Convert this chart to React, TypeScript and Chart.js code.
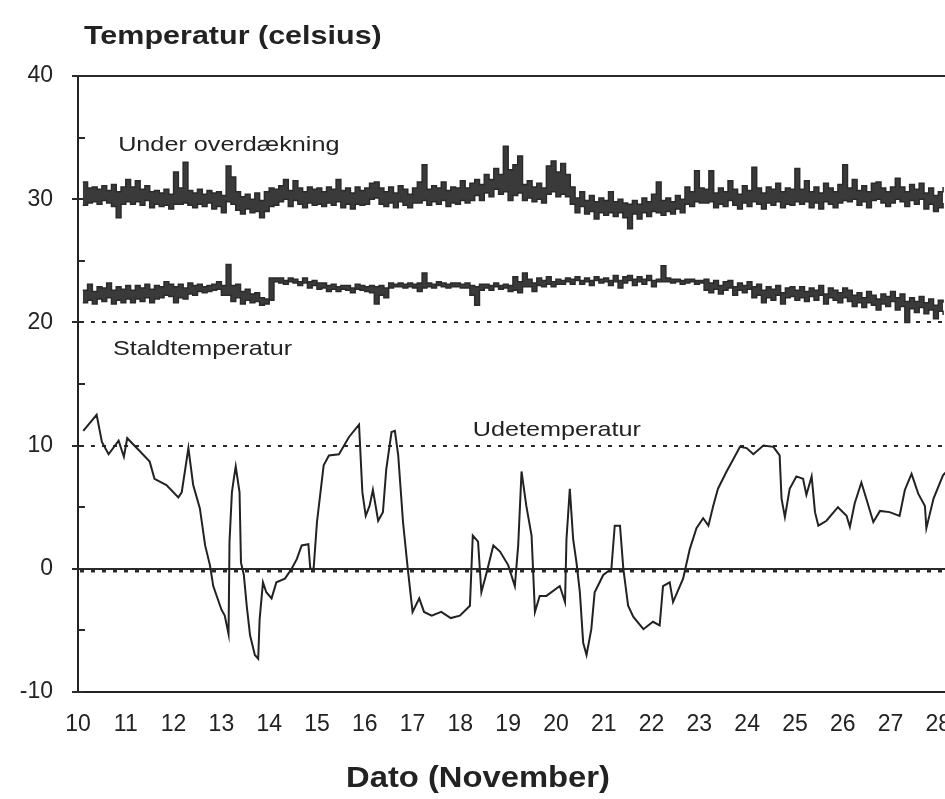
import React, { useEffect, useRef } from "react";
import { Chart, registerables } from "chart.js";

Chart.register(...registerables);

// ---------- data ----------
const xTickDays = [10, 11, 12, 13, 14, 15, 16, 17, 18, 19, 20, 21, 22, 23, 24, 25, 26, 27, 28];
const yTickValues = [-10, 0, 10, 20, 30, 40];
const yMinorValues = [-5, 5, 15, 25, 35];
const dottedLevels = [20, 10, 0];

const seriesNames = ["Under overdækning", "Staldtemperatur", "Udetemperatur"];
const labelDays = [10.84, 10.73, 18.26];
const labelValues = [33.9, 17.35, 10.78];

// noisy series: high / low envelope every 0.1 day from 10.1
const sampleStart = 10.1;
const sampleStep = 0.1;

const coverHigh = [
  31.4, 30.9, 31.0, 30.8, 31.1, 30.7, 31.2, 30.6, 31.0, 31.6,
  31.0, 31.5, 30.8, 31.1, 30.6, 30.7, 30.5, 30.8, 30.4, 32.2,
  30.9, 33.0, 30.7, 30.5, 30.8, 30.4, 30.7, 30.5, 30.6, 30.3,
  32.7, 31.8, 30.6, 30.2, 30.4, 30.0, 30.5, 29.9, 30.6, 30.9,
  30.8, 31.1, 31.6, 30.7, 31.5, 30.9, 30.6, 31.0, 30.8, 30.9,
  30.6, 31.0, 30.8, 31.6, 30.7, 30.9, 30.5, 31.0, 30.7, 30.9,
  31.3, 31.4, 30.9, 30.6, 31.0, 30.5, 31.1, 30.8, 30.4, 30.9,
  31.4, 32.8, 30.8, 31.1, 30.9, 31.4, 30.7, 31.0, 30.9, 31.5,
  30.9, 31.3, 31.6, 31.2, 32.0, 31.6, 32.5, 32.0, 34.3, 32.4,
  32.8, 33.5, 31.2, 31.5, 31.0, 31.3, 30.9, 32.7, 33.1, 32.2,
  32.9, 32.0, 31.0, 30.1, 30.6, 29.9, 30.3, 29.8, 30.1, 29.9,
  30.6, 29.8, 30.0, 29.7, 29.6, 29.9, 29.6, 30.1, 29.8, 30.4,
  31.4, 29.9, 30.1, 29.8, 30.3, 30.0, 31.0, 30.6, 32.3, 30.9,
  30.8, 32.3, 30.5, 30.9, 30.6, 31.5, 30.8, 30.4, 31.1, 30.7,
  32.6, 30.9, 30.5, 31.0, 30.8, 31.3, 30.6, 30.9, 30.8, 32.5,
  30.8, 31.5, 30.6, 31.0, 30.5, 31.3, 30.9, 30.6, 31.2, 32.8,
  30.9, 31.6, 30.7, 31.1, 30.6, 31.3, 31.4, 30.9, 30.6, 31.0,
  31.7, 31.0, 30.6, 31.2, 30.8, 31.3, 30.5, 30.9, 30.3, 30.6,
  31.0,
];

const coverLow = [
  29.5, 29.7, 29.8, 29.6, 29.9, 29.7, 29.4, 28.5, 29.6, 29.8,
  29.6, 29.8, 29.5, 29.9, 29.3, 29.6, 29.4, 29.5, 29.2, 29.6,
  29.6, 29.7, 29.5, 29.3, 29.6, 29.4, 29.7, 29.2, 29.4, 28.9,
  29.8, 29.6, 29.1, 28.8, 29.2, 28.9, 29.0, 28.5, 29.0, 29.4,
  29.5, 29.8, 30.0, 29.4, 29.9, 29.6, 29.3, 29.7, 29.5, 29.6,
  29.4, 29.7, 29.5, 29.8, 29.3, 29.6, 29.2, 29.6, 29.5, 29.6,
  30.0, 30.1, 29.6, 29.4, 29.7, 29.3, 29.8, 29.5, 29.3, 29.7,
  29.7, 29.9, 29.5, 29.8, 29.6, 29.9, 29.4, 29.7, 29.6, 29.9,
  29.7, 29.9, 30.3, 29.9, 30.5, 30.2, 30.8, 30.4, 30.6, 29.9,
  30.3, 30.5, 29.9, 30.1, 29.8, 30.0, 29.7, 30.4, 30.6, 30.2,
  30.4, 30.2, 29.6, 28.9, 29.4, 28.8, 29.0, 28.4, 28.9, 28.7,
  28.9, 28.6, 28.9, 28.5, 27.6, 28.8, 28.4, 28.9, 28.6, 29.0,
  28.9, 28.7, 29.0, 28.8, 29.2, 28.9, 29.6, 29.4, 29.8, 29.7,
  29.7, 29.8, 29.3, 29.6, 29.4, 29.9, 29.5, 29.2, 29.7, 29.4,
  29.8, 29.6, 29.2, 29.7, 29.5, 29.8, 29.3, 29.6, 29.5, 29.8,
  29.6, 29.8, 29.3, 29.7, 29.2, 29.8, 29.6, 29.3, 29.7, 29.9,
  29.8, 30.0, 29.5, 29.8, 29.3, 29.9, 30.0, 29.7, 29.4, 29.7,
  30.0, 29.8, 29.4, 29.9, 29.6, 30.0, 29.2, 29.6, 29.0, 29.3,
  29.7,
];

const stableHigh = [
  22.6, 23.1, 22.5, 22.9, 22.8, 23.2, 22.6, 22.9, 22.7, 23.0,
  22.6, 23.0, 22.8, 23.1, 22.7, 23.0, 22.9, 23.3, 23.1, 22.9,
  23.1, 22.8, 23.2, 23.0, 23.1, 22.9, 23.0, 23.1, 23.3, 23.0,
  24.7, 23.0, 23.1, 22.5, 22.7, 22.3, 22.4, 22.0, 21.9, 23.6,
  23.6, 23.6, 23.4, 23.6, 23.5, 23.3, 23.6, 23.3, 23.4, 23.2,
  23.2, 23.0, 23.1, 22.9, 23.0, 23.0, 22.8, 23.1, 23.0, 22.9,
  23.0, 22.9, 23.0, 22.8, 23.2, 23.1, 23.2, 23.1, 23.2, 23.1,
  23.2, 24.0, 23.2, 23.1, 23.3, 23.2, 23.1, 23.2, 23.2, 23.1,
  23.2, 23.0, 22.9, 23.1, 23.1, 23.0, 23.2, 23.0, 23.1, 23.0,
  23.7, 23.3, 24.0, 23.5, 23.2, 23.6, 23.4, 23.7, 23.3, 23.5,
  23.4, 23.6, 23.5, 23.7, 23.4, 23.6, 23.4, 23.7, 23.5, 23.6,
  23.4, 23.8, 23.4, 23.7, 23.8, 23.5, 23.7, 23.5, 23.8, 23.4,
  23.5, 24.6, 23.6, 23.5, 23.5, 23.4, 23.5, 23.5, 23.4, 23.4,
  23.5, 23.2, 23.4, 23.0, 23.3, 23.4, 22.9, 23.2, 23.0, 23.3,
  22.9, 23.1, 22.6, 22.9, 22.7, 23.0, 22.4, 22.8, 22.9, 22.6,
  22.9, 22.5, 22.8, 22.6, 23.0, 22.3, 22.8, 22.6, 22.4, 22.8,
  22.6, 22.2, 22.4, 22.0, 22.5, 22.2, 21.9, 22.3, 22.1, 22.5,
  22.0, 22.3, 21.7, 22.0, 21.7, 22.1, 21.6, 21.9, 21.4, 21.8,
  21.6,
];

const stableLow = [
  21.6, 21.8, 21.5, 21.9, 21.7, 22.0, 21.5, 21.8, 21.6, 21.9,
  21.6, 21.9, 21.7, 22.0, 21.6, 21.9, 22.0, 22.2, 22.1, 21.6,
  22.0, 21.9, 22.3, 22.2, 22.5, 22.4, 22.5, 22.6, 22.7, 22.2,
  22.2, 21.7, 22.0, 21.5, 21.8, 21.6, 21.7, 21.4, 21.5, 21.8,
  23.3, 23.2, 23.1, 23.3, 23.2, 23.0, 23.2, 22.8, 23.0, 22.7,
  22.8, 22.5, 22.7, 22.5, 22.7, 22.6, 22.4, 22.7, 22.6, 22.5,
  22.4, 21.5, 22.2, 22.0, 22.8, 22.9, 22.9, 22.8, 22.9, 22.8,
  22.5, 22.8, 22.9, 22.8, 23.0, 22.9, 22.8, 22.9, 22.9, 22.8,
  22.8, 22.2, 21.4, 22.6, 22.8, 22.6, 22.9, 22.7, 22.8, 22.5,
  22.6, 22.4, 22.9, 22.9, 22.5, 23.0, 22.9, 23.1, 22.9, 23.1,
  23.1, 23.3, 23.1, 23.4, 23.1, 23.3, 23.0, 23.4, 23.2, 23.3,
  23.0, 23.3, 22.8, 23.2, 23.4, 23.0, 23.3, 23.1, 23.4, 22.9,
  23.3, 23.3, 23.3, 23.2, 23.3, 23.1, 23.2, 23.3, 23.1, 23.2,
  22.6, 22.4, 22.7, 22.3, 22.6, 22.8, 22.2, 22.6, 22.4, 22.7,
  22.0, 22.2, 21.6, 22.0, 21.8, 22.2, 21.5, 22.0, 22.1, 21.8,
  22.0, 21.7, 22.1, 21.8, 22.2, 21.5, 22.0, 21.8, 21.6, 22.0,
  21.7, 21.3, 21.6, 21.2, 21.6, 21.4, 21.0, 21.5, 21.3, 21.7,
  21.0, 21.3, 20.0, 21.1, 20.8, 21.2, 20.7, 21.0, 20.3, 20.9,
  20.6,
];

const outdoorDays = [
  10.11, 10.39, 10.5, 10.64, 10.85, 10.96, 11.03, 11.28, 11.5, 11.6,
  11.85, 12.1, 12.17, 12.31, 12.41, 12.55, 12.66, 12.76, 12.83, 13.0,
  13.07, 13.15, 13.17, 13.22, 13.26, 13.3, 13.38, 13.41, 13.47, 13.53,
  13.6, 13.7, 13.77, 13.8, 13.87, 13.94, 14.05, 14.15, 14.33, 14.47,
  14.58, 14.68, 14.82, 14.86, 14.93, 15.0, 15.14, 15.25, 15.46, 15.67,
  15.88, 15.95, 16.02, 16.1, 16.17, 16.28, 16.38, 16.45, 16.56, 16.63,
  16.7, 16.8, 16.9, 17.0, 17.14, 17.24, 17.4, 17.6, 17.8, 17.99,
  18.2, 18.26, 18.37, 18.44, 18.55, 18.69, 18.83, 19.0, 19.14, 19.21,
  19.28, 19.38, 19.49, 19.56, 19.66, 19.8, 20.08, 20.19, 20.22, 20.29,
  20.36, 20.43, 20.5, 20.57, 20.64, 20.74, 20.81, 20.99, 21.16, 21.23,
  21.34, 21.41, 21.51, 21.62, 21.83, 22.03, 22.17, 22.24, 22.38, 22.45,
  22.66, 22.8, 22.94, 23.08, 23.19, 23.29, 23.39, 23.57, 23.71, 23.85,
  23.99, 24.13, 24.34, 24.55, 24.68, 24.72, 24.79, 24.89, 25.03, 25.17,
  25.24, 25.35, 25.42, 25.49, 25.66, 25.9, 26.08, 26.15, 26.25, 26.39,
  26.5, 26.64, 26.78, 26.98, 27.19, 27.3, 27.44, 27.58, 27.72, 27.75,
  27.9, 28.1, 28.2,
];

const outdoorTemps = [
  11.2, 12.5, 10.3, 9.3, 10.4, 9.1, 10.6, 9.6, 8.7, 7.3,
  6.8, 5.8, 6.2, 9.8, 6.8, 4.9, 1.9, 0.3, -1.4, -3.3,
  -3.8, -5.3, 2.2, 6.2, 7.3, 8.3, 6.2, 0.5, -0.5, -3.0,
  -5.4, -7.0, -7.3, -4.1, -1.1, -1.9, -2.4, -1.1, -0.8, 0.0,
  0.8, 1.9, 2.0, 0.0, 0.0, 3.8, 8.4, 9.2, 9.3, 10.7,
  11.7, 6.2, 4.3, 5.1, 6.4, 3.9, 4.6, 8.1, 11.1, 11.2,
  9.2, 3.8, 0.0, -3.5, -2.4, -3.5, -3.8, -3.5, -4.0, -3.8,
  -3.0, 2.7, 2.2, -1.9, -0.3, 1.9, 1.4, 0.3, -1.4, 1.9,
  7.9, 5.1, 2.7, -3.5, -2.2, -2.2, -1.4, -2.7, 2.4, 6.5,
  2.4, 0.5, -1.9, -6.0, -7.0, -4.9, -1.9, -0.5, 0.0, 3.5,
  3.5, 0.0, -3.0, -3.9, -4.9, -4.3, -4.6, -1.4, -1.1, -2.7,
  -0.8, 1.6, 3.3, 4.1, 3.5, 5.1, 6.5, 7.9, 8.9, 9.9,
  9.8, 9.3, 10.0, 9.9, 9.2, 5.7, 4.2, 6.5, 7.5, 7.3,
  6.0, 7.5, 4.6, 3.5, 3.9, 5.0, 4.3, 3.4, 5.3, 7.0,
  5.6, 3.8, 4.7, 4.6, 4.3, 6.4, 7.7, 6.1, 5.1, 3.3,
  5.7, 7.6, 8.0,
];

const FONT = "'Liberation Sans', Arial, Helvetica, sans-serif";
const INK = "#222222";
const LINE = "#2a2a2a";
const BAND = "#3a3a3a";

const overlayPlugin = {
  id: "overlay",
  beforeDatasetsDraw(chart: any) {
    const { ctx, chartArea, scales } = chart;
    const ys = scales.y;
    const left = chartArea.left;
    const right = chartArea.right;
    ctx.save();
    ctx.strokeStyle = LINE;
    ctx.setLineDash([4, 7]);
    dottedLevels.forEach((v) => {
      const py = Math.round(ys.getPixelForValue(v)) + (v === 0 ? 2 : 0);
      ctx.lineWidth = v === 0 ? 3 : 2;
      ctx.beginPath();
      ctx.moveTo(left + 2, py);
      ctx.lineTo(right, py);
      ctx.stroke();
    });
    ctx.setLineDash([]);
    ctx.lineWidth = 2;
    [0, 40].forEach((v) => {
      const py = Math.round(ys.getPixelForValue(v));
      ctx.beginPath();
      ctx.moveTo(left - 5, py);
      ctx.lineTo(right, py);
      ctx.stroke();
    });
    yTickValues.forEach((v) => {
      const py = Math.round(ys.getPixelForValue(v));
      ctx.beginPath();
      ctx.moveTo(left - 6, py);
      ctx.lineTo(left + 6, py);
      ctx.stroke();
    });
    yMinorValues.forEach((v) => {
      const py = Math.round(ys.getPixelForValue(v));
      ctx.beginPath();
      ctx.moveTo(left, py);
      ctx.lineTo(left + 7, py);
      ctx.stroke();
    });
    ctx.restore();
  },
  afterDraw(chart: any) {
    const { ctx, scales } = chart;
    const xs = scales.x;
    const ys = scales.y;
    const drawStretched = (text: string, x: number, y: number, font: string, sx: number, align = "left") => {
      ctx.save();
      ctx.font = font;
      ctx.fillStyle = INK;
      ctx.textBaseline = "alphabetic";
      ctx.textAlign = align;
      ctx.translate(x, y);
      ctx.scale(sx, 1);
      ctx.fillText(text, 0, 0);
      ctx.restore();
    };
    seriesNames.forEach((name, i) => {
      drawStretched(
        name,
        xs.getPixelForValue(labelDays[i]),
        ys.getPixelForValue(labelValues[i]),
        `21px ${FONT}`,
        1.2
      );
    });
    drawStretched("Temperatur (celsius)", 84, 44, `bold 25px ${FONT}`, 1.22);
    drawStretched("Dato (November)", 478, 787, `bold 29px ${FONT}`, 1.13, "center");
  },
};

export default function App() {
  const canvasRef = useRef<HTMLCanvasElement | null>(null);

  useEffect(() => {
    if (!canvasRef.current) return;
    const sampleData = (vals: number[]) =>
      vals.map((v, i) => ({ x: sampleStart + i * sampleStep, y: v }));
    const bandLine = {
      stepped: true,
      borderColor: LINE,
      borderWidth: 1.5,
      pointRadius: 0,
      backgroundColor: BAND,
    };
    const chart = new Chart(canvasRef.current, {
      type: "line",
      data: {
        datasets: [
          { ...bandLine, label: seriesNames[0] + " (min)", data: sampleData(coverLow), fill: false },
          { ...bandLine, label: seriesNames[0], data: sampleData(coverHigh), fill: "-1" },
          { ...bandLine, label: seriesNames[1] + " (min)", data: sampleData(stableLow), fill: false },
          { ...bandLine, label: seriesNames[1], data: sampleData(stableHigh), fill: "-1" },
          {
            label: seriesNames[2],
            data: outdoorDays.map((d, i) => ({ x: d, y: outdoorTemps[i] })),
            borderColor: "#222222",
            borderWidth: 2,
            pointRadius: 0,
            tension: 0,
            fill: false,
          },
        ],
      },
      options: {
        responsive: false,
        animation: false,
        events: [],
        layout: { padding: { top: 76, left: 0, right: 0, bottom: 0 } },
        plugins: {
          legend: { display: false },
          tooltip: { enabled: false },
          title: { display: false },
          filler: { propagate: false },
        },
        scales: {
          x: {
            type: "linear",
            min: 10,
            max: 28.14,
            grid: { display: false },
            border: { display: true, color: "#222222", width: 2 },
            afterBuildTicks: (scale: any) => {
              scale.ticks = xTickDays.map((v) => ({ value: v }));
            },
            afterFit: (scale: any) => {
              scale.height = 107;
              scale.paddingLeft = 0;
              scale.paddingRight = 0;
            },
            ticks: {
              autoSkip: false,
              maxRotation: 0,
              padding: 11,
              color: INK,
              font: { family: FONT, size: 23 },
              callback: (v: any) => String(v),
            },
          },
          y: {
            type: "linear",
            min: -10,
            max: 40,
            grid: { display: false },
            border: { display: true, color: "#222222", width: 2 },
            afterBuildTicks: (scale: any) => {
              scale.ticks = yTickValues.map((v) => ({ value: v }));
            },
            afterFit: (scale: any) => {
              scale.width = 78;
              scale.paddingTop = 0;
              scale.paddingBottom = 0;
            },
            ticks: {
              padding: 17,
              color: INK,
              font: { family: FONT, size: 23 },
              callback: (v: any) => String(v),
            },
          },
        },
      },
      plugins: [overlayPlugin],
    } as any);
    return () => chart.destroy();
  }, []);

  return (
    <div style={{ position: "absolute", left: 0, top: 0, width: 945, height: 799, background: "#ffffff" }}>
      <canvas ref={canvasRef} width={945} height={799} style={{ display: "block" }} />
    </div>
  );
}
